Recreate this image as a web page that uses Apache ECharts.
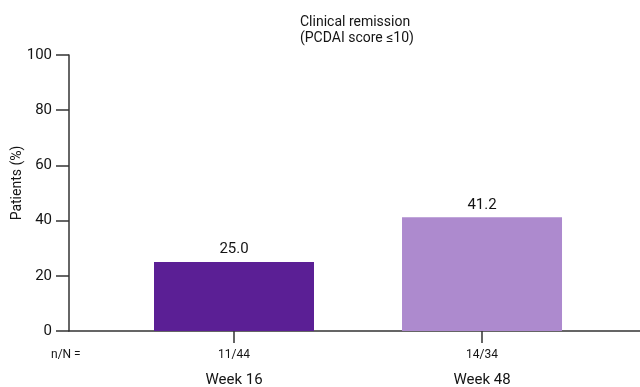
<!DOCTYPE html>
<html>
<head>
<meta charset="utf-8">
<script src="https://cdn.jsdelivr.net/npm/echarts@6/dist/echarts.min.js"></script>
<style>
html,body{margin:0;padding:0;background:#fff;}
#chart{width:640px;height:387px;}
</style>
</head>
<body>
<div id="chart"></div>
<script>
var categories = ['Week 16', 'Week 48'];
var nOverN = ['11/44', '14/34'];
var values = [25.0, 41.2];
var barColors = ['#5b1f95', '#ad8ace'];
var yTicks = [0, 20, 40, 60, 80, 100];
var titleLines = ['Clinical remission', '(PCDAI score \u226410)'];
var yAxisName = 'Patients (%)';
var nLabel = 'n/N =';

var FONT = 'Roboto, "Liberation Sans", sans-serif';
var TXT = '#141414';
var positions = categories.map(function (c, i) { return i + 1; });

var chart = echarts.init(document.getElementById('chart'), null, {renderer: 'canvas'});
chart.setOption({
  animation: false,
  backgroundColor: '#fff',
  textStyle: {fontFamily: FONT, color: TXT},
  title: {
    text: titleLines.join('\n'),
    left: 300,
    top: 14,
    padding: 0,
    textStyle: {fontFamily: FONT, fontSize: 14, fontWeight: 'normal', color: TXT, lineHeight: 16}
  },
  graphic: [{
    type: 'text',
    left: 51,
    top: 349,
    style: {text: nLabel, fontFamily: FONT, fontSize: 12, fill: TXT}
  }],
  grid: {left: 69, right: 0, top: 55, bottom: 56, containLabel: false, outerBoundsMode: 'none'},
  xAxis: {
    type: 'value',
    min: 0.3347,
    max: 2.637,
    axisLine: {show: true, lineStyle: {color: '#333', width: 1.5}},
    axisTick: {show: true, customValues: positions, length: 12, lineStyle: {color: '#333', width: 1.5}},
    splitLine: {show: false},
    axisLabel: {
      customValues: positions,
      margin: 15,
      formatter: function (v) {
        var i = Math.round(v) - 1;
        if (i < 0 || i >= categories.length) return '';
        return '{n|' + nOverN[i] + '}\n{w|' + categories[i] + '}';
      },
      rich: {
        n: {fontFamily: FONT, fontSize: 12, color: TXT, lineHeight: 18},
        w: {fontFamily: FONT, fontSize: 15, color: TXT, lineHeight: 32}
      }
    }
  },
  yAxis: {
    type: 'value',
    min: 0,
    max: 100,
    interval: 20,
    name: yAxisName,
    nameLocation: 'middle',
    nameGap: 45,
    nameRotate: 90,
    nameMoveOverlap: false,
    nameTextStyle: {fontFamily: FONT, fontSize: 14, color: TXT, padding: [0, 0, 0, 20]},
    axisLine: {show: true, lineStyle: {color: '#333', width: 1.5}},
    axisTick: {show: true, length: 13, inside: false, lineStyle: {color: '#333', width: 1.5}},
    splitLine: {show: false},
    axisLabel: {margin: 17, fontFamily: FONT, fontSize: 15, color: TXT,
      customValues: yTicks}
  },
  series: [{
    type: 'bar',
    barWidth: 160,
    data: values.map(function (v, i) {
      return {value: [positions[i], v], itemStyle: {color: barColors[i]}};
    }),
    label: {
      show: true,
      position: 'top',
      distance: 5,
      fontFamily: FONT,
      fontSize: 15,
      color: TXT,
      formatter: function (p) { return p.value[1].toFixed(1); }
    }
  }]
});
</script>
</body>
</html>
